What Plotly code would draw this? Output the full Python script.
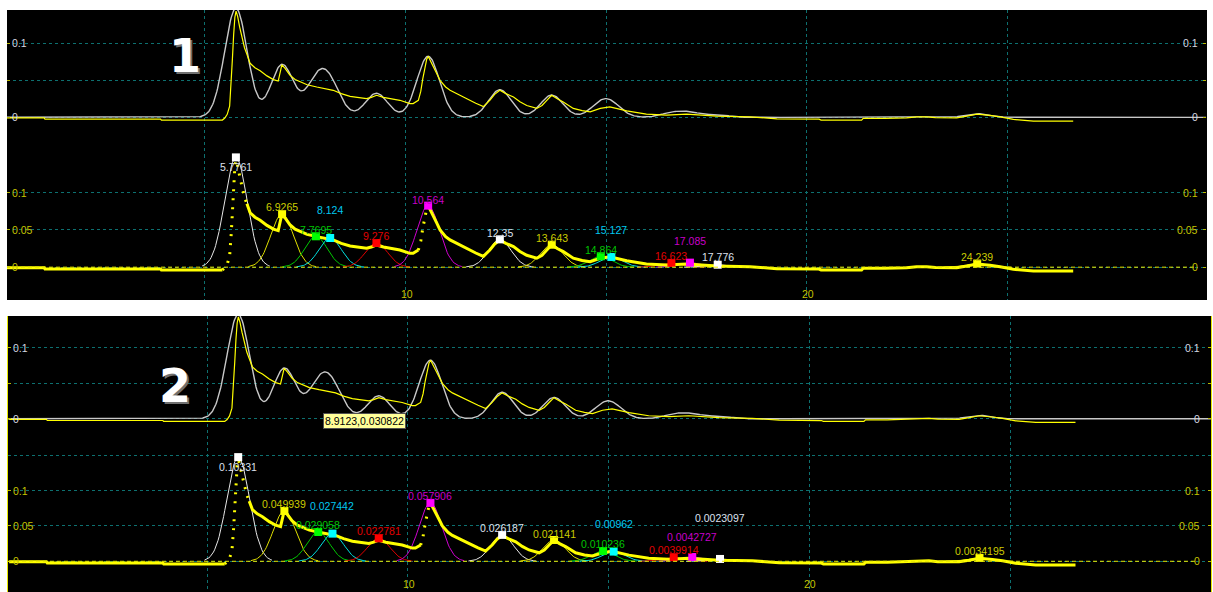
import numpy as np
import plotly.graph_objects as go

W, H = 1213, 592

# ---- fitted peaks: retention time, area (gaussian components share one width) ----
peak_rt = [5.7761, 6.9265, 7.7695, 8.124, 9.276, 10.564, 12.35, 13.643,
           14.864, 15.127, 16.623, 17.085, 17.776, 24.239]
peak_area = [0.10331, 0.049939, 0.029058, 0.027442, 0.022781, 0.057906, 0.026187,
             0.021141, 0.010236, 0.00962, 0.0039914, 0.0042727, 0.0023097, 0.0034195]
PEAK_SIGMA = 0.28

# ---- measured signal ----
signal_rt = [0.07, 1.0, 1.02, 3.9, 3.92, 5.44, 5.50, 5.56, 5.62, 5.66, 5.69, 5.72,
             5.75, 5.78, 5.82, 5.87, 5.93, 5.99, 6.05, 6.13, 6.25, 6.38, 6.55, 6.71,
             6.83, 6.92, 7.00, 7.12, 7.25, 7.37, 7.55, 7.79, 8.0, 8.2, 8.4, 8.62,
             8.8, 9.03, 9.15, 9.28, 9.45, 9.70, 9.86, 10.11, 10.19, 10.32, 10.38,
             10.43, 10.48, 10.53, 10.57, 10.62, 10.69, 10.78, 10.86, 11.0, 11.11,
             11.3, 11.52, 11.75, 11.94, 12.1, 12.22, 12.35, 12.5, 12.69, 12.85,
             13.02, 13.27, 13.4, 13.52, 13.64, 13.78, 13.93, 14.18, 14.4, 14.6,
             14.85, 15.09, 15.3, 15.51, 16.0, 16.5, 17.0, 17.4, 17.75, 18.58,
             19.25, 20.3, 20.35, 21.36, 21.4, 21.94, 22.48, 22.73, 22.98, 23.2,
             23.73, 23.98, 24.23, 24.56, 24.81, 25.14, 25.64, 26.63]
signal_abs = [-0.0007, -0.0007, -0.0024, -0.0024, -0.0037, -0.0037, -0.001, 0.004,
              0.015, 0.045, 0.080, 0.112, 0.135, 0.1435, 0.136, 0.122, 0.106, 0.094,
              0.085, 0.073, 0.067, 0.063, 0.056, 0.051, 0.049, 0.071, 0.066, 0.057,
              0.051, 0.048, 0.044, 0.041, 0.039, 0.0365, 0.032, 0.0284, 0.027, 0.0253,
              0.027, 0.0298, 0.027, 0.024, 0.023, 0.0186, 0.0186, 0.023, 0.035, 0.052,
              0.068, 0.079, 0.082, 0.077, 0.070, 0.059, 0.050, 0.041, 0.0365, 0.031,
              0.0253, 0.019, 0.0145, 0.023, 0.031, 0.0365, 0.032, 0.0275, 0.021,
              0.016, 0.012, 0.016, 0.023, 0.0298, 0.025, 0.0208, 0.012, 0.009,
              0.0074, 0.012, 0.014, 0.011, 0.0087, 0.0043, 0.003, 0.0043, 0.003,
              0.0016, 0.0007, -0.002, -0.0025, -0.0037, -0.0037, -0.0015, -0.0015,
              -0.0007, 0.0007, 0.0007, -0.0005, -0.0007, 0.0016, 0.0043, 0.0025,
              0.0007, -0.0028, -0.0051, -0.0051]

cursor_rt, cursor_abs = 8.9123, 0.030822

grid_rt = [5, 10, 15, 20, 25]
rt_tick_vals = [10, 20]
top_tick_vals = [0, 0.1]
bot_tick_vals = [0, 0.05, 0.1]

# ---- styling ----
COMP_LINE = ["#e6e6e6", "#e0e000", "#00c800", "#00e0e0", "#e00000", "#d000d0"]
COMP_MARK = ["#ffffff", "#ffff00", "#00ff00", "#00ffff", "#ff0000", "#ff00ff"]
COMP_TEXT = ["#dde0ee", "#cccc00", "#00c400", "#00c8f0", "#e00000", "#c800c8"]
GRID = "#0d7070"
TOP_TXT = "#d4d8e0"
BOT_TXT = "#c4c400"
FONT = "Liberation Sans, Arial, sans-serif"


def py(p):
    return 1 - p / H


def gauss(x, c, area, s):
    return area / (s * np.sqrt(2 * np.pi)) * np.exp(-(x - c) ** 2 / (2 * s * s))


def split_runs(xs, ys, ranges):
    steep = [any(a <= xs[i] and xs[i + 1] <= b for a, b in ranges)
             for i in range(len(xs) - 1)]
    solid, dotted = ([], []), ([], [])
    for i, st in enumerate(steep):
        tgt = dotted if st else solid
        if i == 0 or steep[i - 1] != st:
            if tgt[0]:
                tgt[0].append(None)
                tgt[1].append(None)
            tgt[0].append(xs[i])
            tgt[1].append(ys[i])
        tgt[0].append(xs[i + 1])
        tgt[1].append(ys[i + 1])
    return solid, dotted


panels = [
    dict(x_px=(7, 1206), x_rng=(0.0747, 29.938),
         top_px=(10, 155), top_rng=(-0.0509, 0.145),
         bot_px=(155, 300), bot_rng=(-0.044, 0.1504),
         lbl_left=10, lbl_right=1200, rt_lbl_py=294, mode="rt",
         label_dy=[-10, 6.7, 6.5, 27.7, 6.6, 6, 6.7, 6.3, 6.7, 27.3, 7.3, 21.6, 7.6, 6.6],
         tag="1", tag_xy=(185, 56)),
    dict(x_px=(8, 1211), x_rng=(0.0423, 30.005),
         top_px=(316, 454), top_rng=(-0.0496, 0.1448),
         bot_px=(454, 592), bot_rng=(-0.0434, 0.1516),
         lbl_left=11, lbl_right=1202, rt_lbl_py=584, mode="area",
         label_dy=[-9.4, 6.7, 7.3, 27.3, 7, 6.7, 6.7, 6, 7, 27.7, 7.3, 20.4, 41, 6.7],
         tag="2", tag_xy=(175, 385.5)),
]

fig = go.Figure()
shapes, annotations = [], []
layout = {}

curve_rt = np.linspace(0, 30, 1501)
model_sum = sum(gauss(curve_rt, c, a, PEAK_SIGMA) for c, a in zip(peak_rt, peak_area))
peak_height = [a / (PEAK_SIGMA * np.sqrt(2 * np.pi)) for a in peak_area]
(solid_x, solid_y), (dot_x, dot_y) = split_runs(signal_rt, signal_abs,
                                                [(5.44, 6.05), (10.32, 10.57)])

for k, p in enumerate(panels):
    nt, nb = 2 * k + 1, 2 * k + 2
    xt = "x" if nt == 1 else f"x{nt}"
    yt = "y" if nt == 1 else f"y{nt}"
    xb, yb = f"x{nb}", f"y{nb}"
    xdom = [p["x_px"][0] / W, p["x_px"][1] / W]

    for n, ypx, yr, minor in ((nt, p["top_px"], p["top_rng"], None),
                              (nb, p["bot_px"], p["bot_rng"], [0.15])):
        xname = "xaxis" if n == 1 else f"xaxis{n}"
        yname = "yaxis" if n == 1 else f"yaxis{n}"
        layout[xname] = dict(domain=xdom, range=list(p["x_rng"]),
                             anchor="y" if n == 1 else f"y{n}",
                             tickvals=grid_rt, showticklabels=False, ticks="",
                             showgrid=True, gridcolor=GRID, griddash="dot", gridwidth=1,
                             zeroline=False, showline=False, fixedrange=True)
        ycfg = dict(domain=[py(ypx[1]), py(ypx[0])], range=list(yr),
                    anchor="x" if n == 1 else f"x{n}",
                    tickvals=[0, 0.05, 0.1],
                    showticklabels=False, ticks="inside", ticklen=3,
                    tickcolor="#b8b800", mirror="ticks",
                    showgrid=True, gridcolor=GRID, griddash="dot", gridwidth=1,
                    zeroline=False, showline=False, fixedrange=True)
        if minor:
            ycfg["minor"] = dict(tickvals=minor, showgrid=True, gridcolor=GRID,
                                 griddash="dot", ticks="")
        layout[yname] = ycfg

    # black panel background
    shapes.append(dict(type="rect", xref="paper", yref="paper", layer="below",
                       x0=7 / W, x1=(p["x_px"][1] + 1) / W,
                       y0=py(p["bot_px"][1]), y1=py(p["top_px"][0]),
                       fillcolor="#000000", line=dict(width=0)))
    if k == 1:
        for bx in (7.5, 1211.5):
            shapes.append(dict(type="line", xref="paper", yref="paper",
                               x0=bx / W, x1=bx / W, y0=py(p["bot_px"][1]),
                               y1=py(p["top_px"][0]),
                               line=dict(color="#e8e800", width=1)))

    # ---- upper plot: model sum and measured signal ----
    fig.add_trace(go.Scatter(x=curve_rt, y=model_sum, mode="lines", xaxis=xt, yaxis=yt,
                             line=dict(color="#c8c8c8", width=1.4), hoverinfo="skip"))
    fig.add_trace(go.Scatter(x=signal_rt, y=signal_abs, mode="lines", xaxis=xt, yaxis=yt,
                             line=dict(color="#ffff00", width=1.2), hoverinfo="skip"))

    # ---- lower plot: components, signal, apexes ----
    shapes.append(dict(type="line", xref=xb, yref=yb, x0=p["x_rng"][0], x1=29.65,
                       y0=0, y1=0, line=dict(color="#e8e800", width=1, dash="4px,3px")))
    for i, (c, a) in enumerate(zip(peak_rt, peak_area)):
        gx = np.linspace(c - 3 * PEAK_SIGMA, c + 3 * PEAK_SIGMA, 61)
        fig.add_trace(go.Scatter(x=gx, y=gauss(gx, c, a, PEAK_SIGMA), mode="lines",
                                 xaxis=xb, yaxis=yb, hoverinfo="skip",
                                 line=dict(color=COMP_LINE[i % 6], width=1)))
    fig.add_trace(go.Scatter(x=solid_x, y=solid_y, mode="lines", xaxis=xb, yaxis=yb,
                             line=dict(color="#ffff00", width=3), hoverinfo="skip"))
    fig.add_trace(go.Scatter(x=dot_x, y=dot_y, mode="lines", xaxis=xb, yaxis=yb,
                             line=dict(color="#ffff00", width=3, dash="2px,7px"),
                             hoverinfo="skip"))
    fig.add_trace(go.Scatter(x=peak_rt, y=peak_height, mode="markers", xaxis=xb, yaxis=yb,
                             cliponaxis=False, hoverinfo="skip",
                             marker=dict(symbol="square", size=8,
                                         color=[COMP_MARK[i % 6] for i in range(len(peak_rt))],
                                         line=dict(width=0))))
    for i, (c, a, h) in enumerate(zip(peak_rt, peak_area, peak_height)):
        annotations.append(dict(xref=xb, yref=yb, x=c, y=h,
                                text=str(c) if p["mode"] == "rt" else str(a),
                                showarrow=False, xanchor="center", yanchor="middle",
                                yshift=p["label_dy"][i],
                                font=dict(family=FONT, size=10.5, color=COMP_TEXT[i % 6])))

    # ---- tick labels ----
    for yref, vals, col in ((yt, top_tick_vals, TOP_TXT), (yb, bot_tick_vals, BOT_TXT)):
        for v in vals:
            txt = "0" if v == 0 else f"{v:g}"
            annotations.append(dict(xref="paper", yref=yref, x=p["lbl_left"] / W, y=v,
                                    text=txt, showarrow=False, xanchor="left",
                                    yanchor="middle",
                                    font=dict(family=FONT, size=10.5, color=col)))
            annotations.append(dict(xref="paper", yref=yref, x=p["lbl_right"] / W, y=v,
                                    text=txt, showarrow=False, xanchor="right",
                                    yanchor="middle",
                                    font=dict(family=FONT, size=10.5, color=col)))
    for v in rt_tick_vals:
        annotations.append(dict(xref=xb, yref="paper", x=v, y=py(p["rt_lbl_py"]),
                                text=str(v), showarrow=False, xanchor="center",
                                yanchor="middle", xshift=1,
                                font=dict(family=FONT, size=10.5, color=BOT_TXT)))

    # ---- panel number ----
    tx, ty = p["tag_xy"]
    for dx, dy, col in ((2, 2, "#707070"), (0, 0, "#ffffff")):
        annotations.append(dict(xref="paper", yref="paper", x=tx / W, y=py(ty),
                                xshift=dx, yshift=-dy, text=p["tag"], showarrow=False,
                                xanchor="center", yanchor="middle",
                                font=dict(family="DejaVu Sans", size=46, color=col,
                                          weight="bold")))

# cursor readout on the second upper plot
annotations.append(dict(xref="x3", yref="y3", x=cursor_rt, y=cursor_abs,
                        text=f"{cursor_rt},{cursor_abs}", showarrow=False,
                        xanchor="center", yanchor="top", yshift=-16,
                        bgcolor="#ffff99", bordercolor="#505050", borderwidth=1,
                        borderpad=1, font=dict(family=FONT, size=10.5, color="#000000")))

fig.update_layout(width=W, height=H, autosize=False,
                  margin=dict(l=0, r=0, t=0, b=0, pad=0),
                  paper_bgcolor="#ffffff", plot_bgcolor="rgba(0,0,0,0)",
                  showlegend=False, hovermode=False,
                  shapes=shapes, annotations=annotations, **layout)

fig.write_html("out.html", config=dict(displayModeBar=False, staticPlot=True))
